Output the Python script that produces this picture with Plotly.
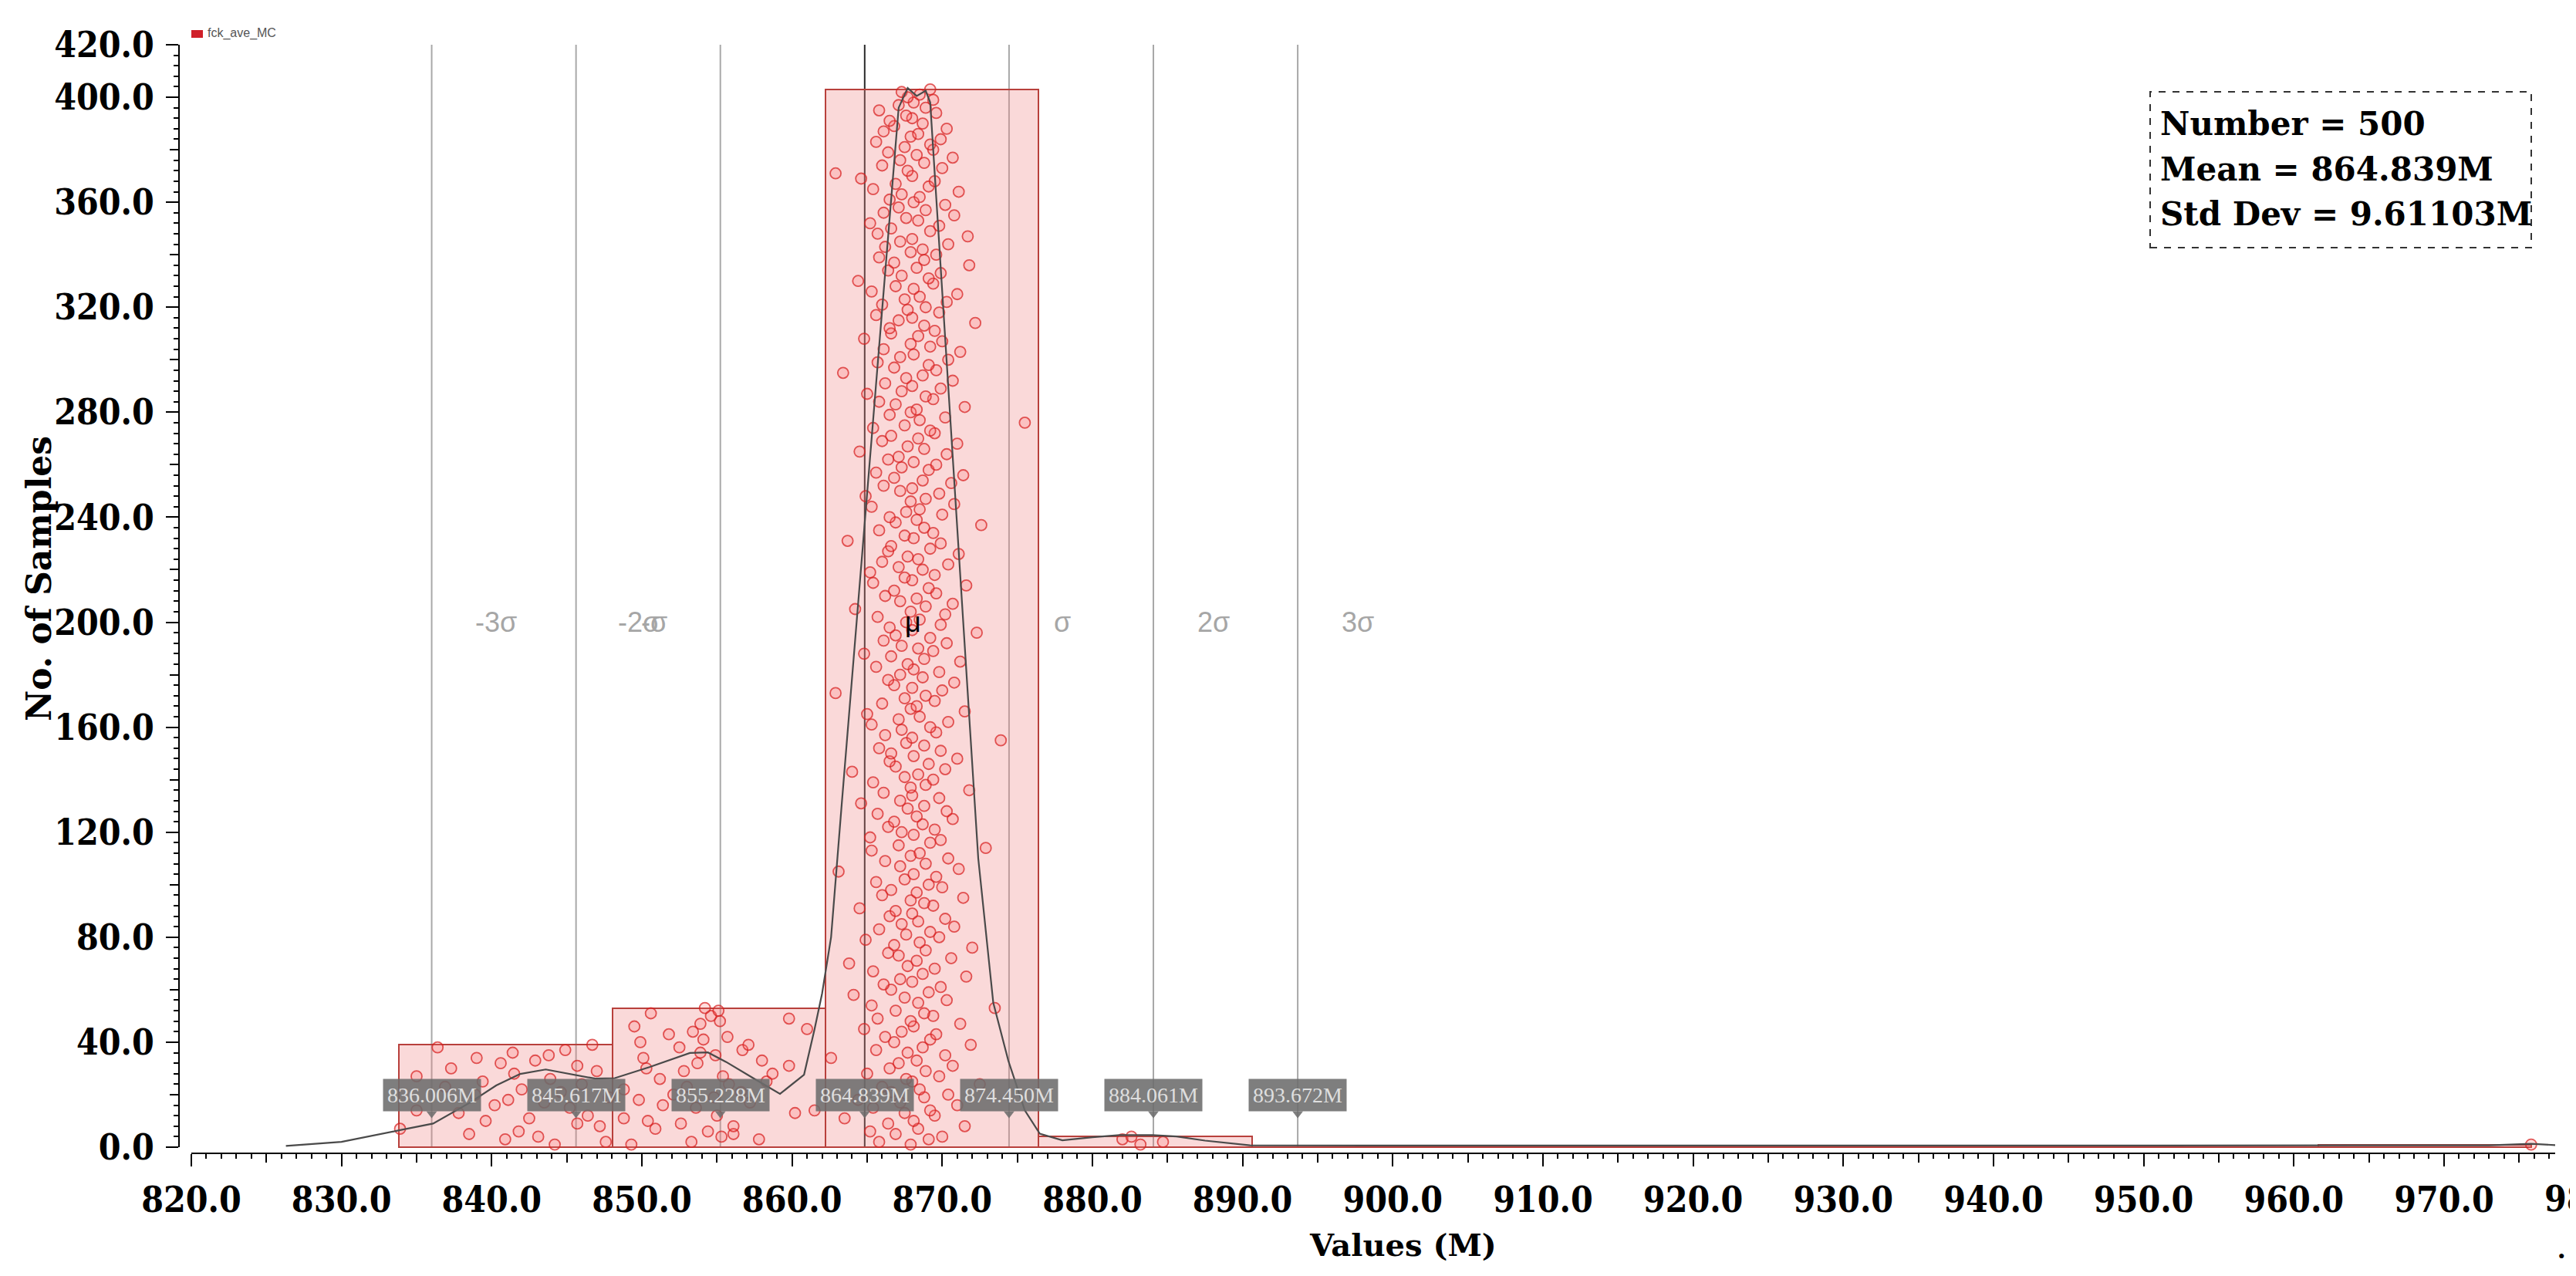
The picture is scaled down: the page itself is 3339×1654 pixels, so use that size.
import plotly.graph_objects as go

# ---- data ----
bin_start = 833.83
bin_width = 14.2
bin_counts = [39, 53, 403, 4, 0, 0, 0, 0, 0, 1]

sigma_vals = [836.006, 845.617, 855.228, 864.839, 874.450, 884.061, 893.672]
sigma_names = ["-3σ", "-2σ", "-σ", "μ", "σ", "2σ", "3σ"]

stats_lines = ["Number = 500", "Mean = 864.839M", "Std Dev = 9.61103M"]

x_ticks = [820, 830, 840, 850, 860, 870, 880, 890, 900, 910, 920, 930, 940, 950, 960, 970]
y_ticks = [0, 40, 80, 120, 160, 200, 240, 280, 320, 360, 400, 420]

# density curve (grey line)
curve_x = [826.3, 830.0, 833.9, 836.1, 838.5, 840.3, 841.9, 843.6, 846.9, 848.2, 850.5, 853.2,
           854.4, 855.6, 857.5, 859.2, 860.8, 861.5, 862.0, 862.6, 863.3, 864.3, 865.7, 866.6,
           867.1, 867.7, 868.3, 868.9, 869.2, 870.3, 871.4, 872.4, 873.4, 874.4, 875.5, 876.5,
           878.0, 880.0, 881.8, 884.0, 885.6, 887.5, 890.5, 900.0, 930.0, 960.0, 973.0, 975.8, 977.4]
curve_y = [0.5, 2.0, 6.5, 9.0, 16.8, 23.5, 27.9, 29.6, 26.1, 26.3, 30.5, 35.9,
           36.1, 32.5, 26.0, 20.3, 27.6, 45.0, 58.5, 80.0, 130.0, 200.0, 299.0, 362.0,
           396.0, 403.5, 400.5, 402.5, 398.0, 299.0, 200.0, 110.0, 55.0, 33.0, 14.0, 5.1,
           2.6, 3.8, 4.6, 4.6, 4.1, 2.5, 0.7, 0.6, 0.6, 0.6, 0.7, 1.3, 0.8]

# individual samples per bin, listed bottom to top (y = running count inside the bin)
bin1_x = [844.2, 847.6, 840.9, 843.1, 838.5, 841.8, 833.9, 847.2, 845.7, 839.6,
          842.5, 846.4, 837.8, 835.0, 845.2, 840.2, 843.5, 841.1, 847.8, 838.9,
          844.6, 842.0, 836.9, 846.0, 839.4, 843.9, 835.0, 841.5, 847.0, 837.3,
          845.7, 840.6, 842.9, 839.0, 843.8, 841.4, 844.9, 836.4, 846.7]
bin2_x = [849.3, 853.3, 857.8, 855.3, 856.1, 854.4, 850.9, 856.1, 852.6, 850.4,
          848.8, 855.0, 860.2, 861.5, 853.6, 851.4, 857.2, 849.8, 854.8, 852.1,
          856.6, 848.8, 853.0, 855.8, 858.3, 851.2, 855.4, 858.7, 852.8, 850.3,
          859.8, 853.7, 858.0, 850.1, 854.9, 853.9, 856.7, 852.5, 857.1, 849.9,
          854.1, 855.7, 851.8, 853.4, 861.0, 849.5, 853.9, 855.2, 859.8, 854.6,
          850.6, 855.1, 854.2]
bin3_x = [867.9, 865.8, 869.1, 870.0, 866.9, 865.2, 868.4, 871.5, 866.4, 868.1, 863.5, 869.5, 867.5, 869.2, 865.4, 871.0, 867.2, 864.4, 868.8, 870.4,
          866.6, 868.5, 866.0, 872.5, 868.0, 867.6, 869.8, 865.0, 868.9, 866.5, 870.7, 867.1, 868.3, 862.6, 870.2, 867.7, 865.6, 868.7, 871.9, 866.8,
          869.2, 866.2, 869.6, 867.3, 864.8, 868.1, 871.2, 867.9, 865.7, 869.4, 868.8, 866.9, 873.5, 865.3, 868.4, 870.3, 867.5, 864.1, 869.1, 866.6,
          869.9, 866.1, 868.0, 867.2, 871.6, 868.7, 865.4, 869.5, 867.7, 863.8, 868.3, 870.6, 867.1, 866.4, 868.9, 872.0, 866.8, 868.5, 864.9, 869.8,
          867.6, 869.2, 865.8, 870.8, 867.3, 868.4, 870.2, 866.5, 868.0, 866.9, 864.5, 869.4, 868.8, 867.9, 871.4, 866.0, 868.3, 866.6, 870.0, 869.1,
          865.6, 867.5, 869.6, 868.1, 863.1, 871.1, 867.2, 868.9, 866.2, 870.4, 867.9, 868.5, 865.3, 872.9, 867.1, 869.2, 869.9, 865.2, 868.1, 867.3,
          869.5, 866.4, 868.7, 866.8, 870.7, 868.3, 865.7, 870.3, 867.7, 868.8, 864.6, 867.2, 869.8, 868.0, 866.1, 871.8, 867.9, 868.9, 865.4, 869.4,
          867.5, 868.4, 864.0, 870.2, 866.9, 869.1, 866.5, 871.0, 868.1, 866.6, 869.9, 865.8, 868.8, 867.6, 873.9, 868.0, 866.2, 869.6, 867.3, 869.2,
          865.3, 870.4, 867.1, 868.5, 865.0, 871.5, 867.9, 868.3, 866.0, 869.5, 867.5, 868.9, 862.9, 870.0, 868.0, 866.8, 870.8, 866.4, 868.7, 867.2,
          869.8, 868.1, 865.6, 867.7, 871.2, 868.8, 866.6, 864.8, 869.4, 868.4, 867.3, 870.3, 866.1, 869.2, 866.9, 872.3, 868.0, 866.5, 869.9, 867.6,
          868.5, 865.7, 870.2, 867.9, 864.2, 868.9, 870.7, 867.2, 868.3, 866.2, 869.6, 866.8, 869.1, 871.6, 865.4, 868.0, 867.5, 869.5, 865.2, 868.7,
          867.1, 870.4, 866.0, 868.4, 867.7, 871.1, 866.4, 869.2, 866.6, 869.9, 863.7, 868.1, 867.5, 869.4, 865.8, 868.8, 872.6, 866.9, 868.3, 866.5,
          870.0, 867.6, 868.5, 865.3, 870.8, 867.9, 868.9, 864.9, 869.8, 867.2, 868.0, 866.1, 870.6, 868.7, 866.8, 871.4, 865.6, 869.1, 867.3, 869.6,
          868.1, 866.4, 867.1, 870.3, 864.5, 868.8, 867.7, 871.0, 866.0, 868.4, 866.6, 869.5, 869.2, 865.4, 867.5, 875.5, 868.5, 870.2, 866.5, 867.9,
          868.3, 871.5, 866.9, 865.8, 869.4, 868.9, 865.0, 867.3, 869.9, 868.0, 866.2, 870.7, 867.6, 868.7, 863.4, 869.6, 866.8, 869.1, 865.7, 870.4,
          867.2, 868.1, 871.2, 866.1, 869.2, 867.9, 870.0, 864.8, 868.4, 866.6, 869.5, 866.5, 868.8, 872.2, 867.1, 868.0, 865.6, 869.8, 867.7, 868.9,
          866.0, 870.3, 867.5, 868.5, 871.0, 865.3, 868.1, 866.9, 869.4, 864.4, 869.1, 867.3, 869.9, 866.4, 868.3, 871.8, 866.8, 868.8, 865.8, 869.6,
          867.9, 868.7, 866.2, 870.4, 867.2, 868.0, 871.7, 865.7, 869.2, 866.6, 869.8, 865.2, 868.4, 867.6, 870.8, 866.1, 868.9, 867.1, 870.2, 868.1,
          866.5, 868.5, 867.3, 871.1, 865.4, 869.1, 866.9, 869.5, 864.6, 868.0, 862.9, 867.7, 870.0, 866.0, 868.8, 867.2, 870.7, 868.3, 866.4, 869.4,
          867.5, 869.2, 865.6, 869.9, 867.9, 868.4, 866.1, 870.3, 866.8, 868.7, 866.5, 868.0, 867.6, 869.6, 865.8, 868.9, 867.1, 868.1, 869.4, 867.7,
          868.5, 867.3, 869.2]
bin4_x = [883.2, 884.7, 882.0, 882.6]
bin10_x = [975.8]

# ---- geometry (pixels of the 3339x1654 page) ----
W, H = 3339, 1654
ML, MR, MT, MB = 224, 35, 50, 167
PW, PH = W - ML - MR, H - MT - MB
X_RANGE = [819.18, 977.4]
Y_RANGE = [-2.35, 420]

SERIF = "DejaVu Serif"
SERIF_COND = "'DejaVu Serif Condensed', 'DejaVu Serif'"
BAR_FILL = "rgba(240,128,128,0.30)"
BAR_EDGE = "#b8403c"
BADGE_BG = "rgba(108,108,108,0.88)"


def px(x):
    return (x - ML) / PW


def py(y):
    return (H - MB - y) / PH


fig = go.Figure()

# histogram bars
centers = [bin_start + (k + 0.5) * bin_width for k in range(len(bin_counts))]
fig.add_trace(go.Bar(
    x=centers, y=bin_counts, width=bin_width,
    marker=dict(color=BAR_FILL, line=dict(color=BAR_EDGE, width=2)),
    hoverinfo="skip",
))

# sample points
pts_x, pts_y = [], []
for grp in (bin1_x, bin2_x, bin3_x, bin4_x, bin10_x):
    for i, v in enumerate(grp):
        pts_x.append(v)
        pts_y.append(i + 1)
fig.add_trace(go.Scatter(
    x=pts_x, y=pts_y, mode="markers",
    marker=dict(symbol="circle", size=14, color="rgba(255,110,110,0.22)",
                line=dict(color="rgba(215,30,30,0.72)", width=1.8)),
    hoverinfo="skip",
))

# density curve
fig.add_trace(go.Scatter(
    x=curve_x, y=curve_y, mode="lines",
    line=dict(color="#4a4a4a", width=2.2), hoverinfo="skip",
))

# badge pointers
fig.add_trace(go.Scatter(
    x=sigma_vals, y=[12.8] * len(sigma_vals), mode="markers",
    marker=dict(symbol="triangle-down", size=12, color=BADGE_BG),
    hoverinfo="skip",
))

# dummy trace for the medium-tick overlay axes
fig.add_trace(go.Scatter(x=[bin_start], y=[0], xaxis="x2", yaxis="y2", mode="markers",
                         marker=dict(opacity=0), hoverinfo="skip"))

shapes = []
# sigma lines
for v, name in zip(sigma_vals, sigma_names):
    shapes.append(dict(type="line", xref="x", yref="y", x0=v, x1=v, y0=0, y1=420,
                       line=dict(color="#2a2a2a" if name == "μ" else "#a8a8a8", width=2),
                       layer="below"))
# detached axis lines
shapes.append(dict(type="line", xref="paper", yref="y", x0=0, x1=0, y0=0, y1=420,
                   line=dict(color="black", width=2)))
shapes.append(dict(type="line", xref="x", yref="paper", x0=820, x1=X_RANGE[1], y0=0, y1=0,
                   line=dict(color="black", width=2)))
# stats box
shapes.append(dict(type="rect", xref="paper", yref="paper",
                   x0=px(2779), x1=px(3273), y0=py(313), y1=py(111),
                   line=dict(color="#333", width=2, dash="dash"), fillcolor="white"))
# legend swatch
shapes.append(dict(type="rect", xref="paper", yref="paper",
                   x0=px(240), x1=px(255), y0=py(41), y1=py(31),
                   line=dict(width=0), fillcolor="#d0202a"))

annotations = []
# sigma labels
label_offsets = [2.8, 2.7, -5.4, 2.6, 2.9, 2.8, 2.8]
for v, name, off in zip(sigma_vals, sigma_names, label_offsets):
    annotations.append(dict(x=v + off, y=200, xref="x", yref="y", text=name, showarrow=False,
                            xanchor="left", yanchor="middle",
                            font=dict(family="Liberation Sans", size=36,
                                      color="black" if name == "μ" else "#a6a6a6")))
# value badges
for v in sigma_vals:
    annotations.append(dict(x=v, y=19.7, xref="x", yref="y", text=f"{v:.3f}M", showarrow=False,
                            xanchor="center", yanchor="middle", bgcolor=BADGE_BG, borderpad=5,
                            font=dict(family="Liberation Serif", size=28, color="#dedede")))
# stats text
for line, yy in zip(stats_lines, [152, 211, 270]):
    annotations.append(dict(x=px(2790), y=py(yy), xref="paper", yref="paper", text=line,
                            showarrow=False, xanchor="left", yanchor="middle",
                            font=dict(family=SERIF, size=42, color="black", weight="bold")))
# legend text
annotations.append(dict(x=px(259), y=py(35), xref="paper", yref="paper", text="fck_ave_MC",
                        showarrow=False, xanchor="left", yanchor="middle",
                        font=dict(family="Liberation Sans", size=16, color="#555")))
# axis titles
annotations.append(dict(x=px(1810), y=py(1605), xref="paper", yref="paper", text="Values (M)",
                        showarrow=False, xanchor="center", yanchor="middle",
                        font=dict(family=SERIF, size=40, color="black", weight="bold")))
annotations.append(dict(x=px(42), y=py(742), xref="paper", yref="paper", text="No. of Samples",
                        showarrow=False, xanchor="center", yanchor="middle", textangle=-90,
                        font=dict(family=SERIF, size=44, color="black", weight="bold")))

tickfont = dict(family=SERIF_COND, size=46, color="black", weight="bold")

# clipped tick label at the right edge
annotations.append(dict(x=(980 - X_RANGE[0]) / (X_RANGE[1] - X_RANGE[0]), y=py(1546),
                        xref="paper", yref="paper", text="980.0", showarrow=False,
                        xanchor="center", yanchor="middle", font=tickfont))
annotations.append(dict(x=px(3318), y=py(1630), xref="paper", yref="paper", text="●",
                        showarrow=False, font=dict(size=14, color="black")))

fig.update_layout(
    width=W, height=H,
    margin=dict(l=ML, r=MR, t=MT, b=MB, pad=0),
    paper_bgcolor="white", plot_bgcolor="white",
    showlegend=False,
    bargap=0,
    xaxis=dict(range=X_RANGE, showgrid=False, zeroline=False, showline=False,
               tickmode="array", tickvals=x_ticks, ticktext=[f"{v:.1f}" for v in x_ticks],
               ticks="outside", ticklen=16, tickwidth=2, tickcolor="black",
               tickfont=tickfont, ticklabelstandoff=4,
               minor=dict(dtick=1, tick0=820, ticks="outside", ticklen=6, tickwidth=1.5,
                          tickcolor="black", showgrid=False)),
    yaxis=dict(range=Y_RANGE, showgrid=False, zeroline=False, showline=False,
               tickmode="array", tickvals=y_ticks, ticktext=[f"{v:.1f}" for v in y_ticks],
               ticks="outside", ticklen=16, tickwidth=2, tickcolor="black",
               tickfont=tickfont, ticklabelstandoff=6,
               minor=dict(dtick=4, tick0=0, ticks="outside", ticklen=6, tickwidth=1.5,
                          tickcolor="black", showgrid=False)),
    xaxis2=dict(overlaying="x", anchor="y", side="bottom", range=X_RANGE, showgrid=False,
                zeroline=False, showline=False, showticklabels=False,
                tickmode="array", tickvals=[v + 5 for v in x_ticks],
                ticks="outside", ticklen=11, tickwidth=2, tickcolor="black"),
    yaxis2=dict(overlaying="y", anchor="x", side="left", range=Y_RANGE, showgrid=False,
                zeroline=False, showline=False, showticklabels=False,
                tickmode="array", tickvals=[v + 20 for v in y_ticks[:-2]],
                ticks="outside", ticklen=11, tickwidth=2, tickcolor="black"),
    shapes=shapes,
    annotations=annotations,
)

fig.write_html("out.html")
